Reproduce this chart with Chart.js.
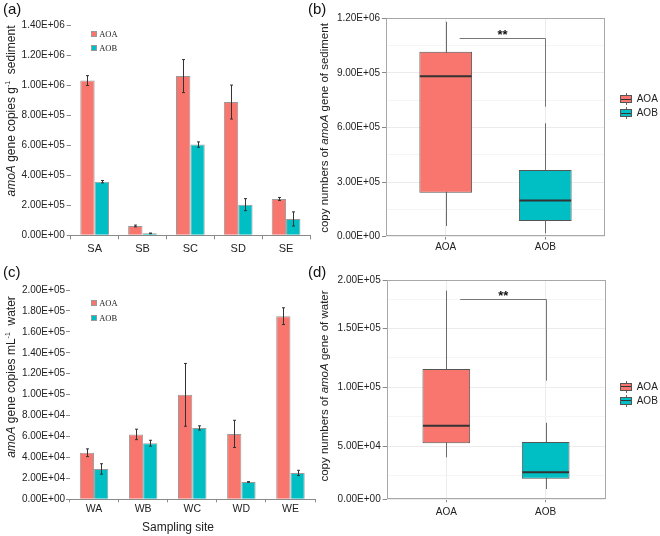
<!DOCTYPE html>
<html><head><meta charset="utf-8">
<script src="https://cdn.jsdelivr.net/npm/chart.js@4/dist/chart.umd.min.js"></script>
<style>
html,body{margin:0;padding:0;background:#fff;}
body{width:660px;height:536px;overflow:hidden;position:relative;font-family:"Liberation Sans",Arial,sans-serif;color:#222;}
canvas{position:absolute;}
.t{position:absolute;white-space:nowrap;line-height:1;}
.rot{transform:translate(-50%,-50%) rotate(-90deg);}
.pl{position:absolute;font-size:15px;line-height:1;color:#111;}
.sw{position:absolute;width:6px;height:6px;box-sizing:border-box;border:1px solid #999;}
.lt{position:absolute;font-family:"Liberation Serif","Times New Roman",serif;font-size:8.5px;line-height:1;transform:translateY(-50%);}
.bt{position:absolute;font-size:10px;line-height:1;transform:translateY(-50%);}
sup{font-size:7px;vertical-align:5px;line-height:0;}
</style></head><body>
<canvas id="ca" width="330" height="260" style="left:0;top:0"></canvas>
<canvas id="cb" width="330" height="260" style="left:330px;top:0"></canvas>
<canvas id="cc" width="330" height="276" style="left:0;top:260px"></canvas>
<canvas id="cd" width="330" height="276" style="left:330px;top:260px"></canvas>

<div class="pl" style="left:3px;top:1px">(a)</div>
<div class="pl" style="left:308px;top:1px">(b)</div>
<div class="pl" style="left:3px;top:264px">(c)</div>
<div class="pl" style="left:308px;top:264px">(d)</div>

<div class="t rot" style="left:11px;top:111px;font-size:12px"><i>amoA</i> gene copies g<sup>-1</sup>&nbsp;&nbsp;sediment</div>
<div class="t rot" style="left:11px;top:377px;font-size:12px"><i>amoA</i> gene copies mL<sup>-1</sup>&nbsp;&nbsp;water</div>
<div class="t rot" style="left:325px;top:128px;font-size:11.5px">copy numbers of <i>amoA</i> gene of sediment</div>
<div class="t rot" style="left:325px;top:386px;font-size:11.5px">copy numbers of <i>amoA</i> gene of water</div>
<div class="t" style="left:178px;top:527px;font-size:12px;transform:translate(-50%,-50%)">Sampling site</div>
<div id="legends"></div>

<script>
// ---------------- data ----------------
const seriesNames = ['AOA', 'AOB'];

const sedSites = ['SA', 'SB', 'SC', 'SD', 'SE'];
const sedAOA = [1.03e6, 6.2e4, 1.06e6, 8.87e5, 2.42e5];
const sedAOAErr = [3.3e4, 6e3, 1.1e5, 1.13e5, 1.0e4];
const sedAOB = [3.57e5, 1.3e4, 6.04e5, 2.04e5, 1.09e5];
const sedAOBErr = [8e3, 2e3, 1.8e4, 4e4, 4.7e4];
const sedTickValues = [0, 2e5, 4e5, 6e5, 8e5, 1e6, 1.2e6, 1.4e6];
const sedTickLabels = ['0.00E+00', '2.00E+05', '4.00E+05', '6.00E+05', '8.00E+05', '1.00E+06', '1.20E+06', '1.40E+06'];

const waterSites = ['WA', 'WB', 'WC', 'WD', 'WE'];
const waterAOA = [4.45e4, 6.2e4, 9.98e4, 6.25e4, 1.75e5];
const waterAOAErr = [3.7e3, 5e3, 3e4, 1.3e4, 8e3];
const waterAOB = [2.9e4, 5.36e4, 6.82e4, 1.66e4, 2.52e4];
const waterAOBErr = [5e3, 2.8e3, 2e3, 3e2, 2.5e3];
const waterTickValues = [0, 2e4, 4e4, 6e4, 8e4, 1e5, 1.2e5, 1.4e5, 1.6e5, 1.8e5, 2e5];
const waterTickLabels = ['0.00E+00', '2.00E+04', '4.00E+04', '6.00E+04', '8.00E+04', '1.00E+05', '1.20E+05', '1.40E+05', '1.60E+05', '1.80E+05', '2.00E+05'];

const boxGroups = ['AOA', 'AOB'];
const sedBoxMin = [5.8e4, 1.8e4];
const sedBoxQ1 = [2.41e5, 8.6e4];
const sedBoxMed = [8.82e5, 1.99e5];
const sedBoxQ3 = [1.016e6, 3.66e5];
const sedBoxMax = [1.181e6, 6.23e5];
const sedBoxRange = [0, 1.2e6];
const sedBoxTickValues = [0, 1.5e5, 3e5, 4.5e5, 6e5, 7.5e5, 9e5, 1.05e6, 1.2e6];
const sedBoxTickLabels = ['0.00E+00', '', '3.00E+05', '', '6.00E+05', '', '9.00E+05', '', '1.20E+06'];
const sedSig = [1.14, 2, 1.09e6, 7.14e5];   // bracket: x from, x to, level, lower end
const sigText = '**';

const waterBoxMin = [4.05e4, 1.35e4];
const waterBoxQ1 = [5.24e4, 2.23e4];
const waterBoxMed = [6.73e4, 2.77e4];
const waterBoxQ3 = [1.156e5, 5.35e4];
const waterBoxMax = [1.821e5, 6.99e4];
const waterBoxRange = [4.8e3, 1.912e5];
const waterBoxTickValues = [4.8e3, 2.5e4, 5e4, 7.5e4, 1e5, 1.25e5, 1.5e5, 1.75e5, 1.912e5];
const waterBoxTickLabels = ['0.00E+00', '', '5.00E+04', '', '1.00E+05', '', '1.50E+05', '', '2.00E+05'];
const waterSig = [1.14, 2, 1.75e5, 1.056e5];

// ---------------- styling ----------------
const FONT = "'Liberation Sans', Arial, sans-serif";
const COLORS = ['#F8766D', '#00BFC4'];

const errorBars = {
  id: 'errorBars',
  afterDatasetsDraw(chart) {
    const ctx = chart.ctx, y = chart.scales.y;
    chart.data.datasets.forEach((ds, i) => {
      const meta = chart.getDatasetMeta(i);
      meta.data.forEach((bar, j) => {
        const v = ds.data[j], e = ds.errors[j];
        const px = Math.round(bar.x) + 0.5;
        const t = y.getPixelForValue(v + e), b = y.getPixelForValue(v - e);
        ctx.save();
        ctx.strokeStyle = '#333'; ctx.lineWidth = 1;
        ctx.beginPath();
        ctx.moveTo(px, t); ctx.lineTo(px, b);
        ctx.moveTo(px - 1.5, t); ctx.lineTo(px + 1.5, t);
        ctx.moveTo(px - 1.5, b); ctx.lineTo(px + 1.5, b);
        ctx.stroke();
        ctx.restore();
      });
    });
  }
};

function makeBar(id, cats, aoa, aoaErr, aob, aobErr, tickVals, tickLabels, g) {
  return new Chart(document.getElementById(id), {
    type: 'bar',
    data: {
      labels: cats,
      datasets: [
        { label: seriesNames[0], data: aoa, errors: aoaErr, backgroundColor: COLORS[0], borderColor: '#9a9a9a', borderWidth: 1 },
        { label: seriesNames[1], data: aob, errors: aobErr, backgroundColor: COLORS[1], borderColor: '#9a9a9a', borderWidth: 1 }
      ]
    },
    options: {
      responsive: false, animation: false, devicePixelRatio: 1,
      datasets: { bar: { categoryPercentage: g.catPct, barPercentage: 1 } },
      layout: { padding: { top: g.top, right: g.right, left: 0, bottom: 0 } },
      plugins: { legend: { display: false }, tooltip: { enabled: false } },
      scales: {
        x: {
          grid: { offset: true, drawOnChartArea: false, tickLength: g.xTick, color: '#8a8a8a' },
          border: { display: true, color: '#8a8a8a' },
          ticks: { font: { family: FONT, size: g.xFont }, color: '#222', padding: g.xPad, maxRotation: 0 },
          afterFit(s) { s.height = g.xH; }
        },
        y: {
          min: tickVals[0], max: tickVals[tickVals.length - 1],
          afterBuildTicks(s) { s.ticks = tickVals.map(v => ({ value: v })); },
          ticks: { callback: (v, i) => tickLabels[i], font: { family: FONT, size: 10 }, color: '#222', padding: g.yPad, autoSkip: false },
          grid: { drawOnChartArea: false, tickLength: g.yTick, color: '#8a8a8a' },
          border: { display: false },
          afterFit(s) { s.width = g.yW; }
        }
      }
    },
    plugins: [errorBars]
  });
}

const boxExtras = {
  id: 'boxExtras',
  beforeDatasetsDraw(chart) {
    const { ctx, scales: { x, y } } = chart;
    const st = chart.data.datasets[0].stats;
    ctx.save();
    ctx.strokeStyle = '#6a6a6a'; ctx.lineWidth = 1;
    st.mins.forEach((mn, i) => {
      const px = Math.round(x.getPixelForValue(i + 1)) + 0.5;
      ctx.beginPath();
      ctx.moveTo(px, y.getPixelForValue(mn));
      ctx.lineTo(px, y.getPixelForValue(st.maxs[i]));
      ctx.stroke();
    });
    ctx.restore();
  },
  afterDatasetsDraw(chart) {
    const { ctx, scales: { x, y } } = chart;
    const ds = chart.data.datasets[0], st = ds.stats;
    const meta = chart.getDatasetMeta(0);
    ctx.save();
    ctx.strokeStyle = '#333'; ctx.lineWidth = 2;
    meta.data.forEach((bar, i) => {
      const py = y.getPixelForValue(st.med[i]);
      ctx.beginPath();
      ctx.moveTo(bar.x - bar.width / 2 + 0.5, py);
      ctx.lineTo(bar.x + bar.width / 2 - 0.5, py);
      ctx.stroke();
    });
    // significance bracket
    const s = st.sig;
    const x1 = x.getPixelForValue(s[0]), x2 = Math.round(x.getPixelForValue(s[1])) + 0.5;
    const yl = Math.round(y.getPixelForValue(s[2])) + 0.5, yb = y.getPixelForValue(s[3]);
    ctx.strokeStyle = '#777'; ctx.lineWidth = 1;
    ctx.beginPath();
    ctx.moveTo(x1, yl); ctx.lineTo(x2, yl); ctx.lineTo(x2, yb);
    ctx.stroke();
    ctx.fillStyle = '#111';
    ctx.font = 'bold 13px ' + FONT;
    ctx.textAlign = 'center'; ctx.textBaseline = 'alphabetic';
    ctx.fillText(sigText, (x1 + x2) / 2, yl);
    ctx.restore();
  },
  afterDraw(chart) {
    const { ctx, chartArea: a } = chart;
    ctx.save();
    ctx.strokeStyle = '#a8a8a8'; ctx.lineWidth = 1;
    ctx.strokeRect(Math.round(a.left) + 0.5, Math.round(a.top) + 0.5, Math.round(a.right - a.left) - 1, Math.round(a.bottom - a.top) - 1);
    ctx.restore();
  }
};

function makeBox(id, mins, q1, med, q3, maxs, range, tickVals, tickLabels, sig, g) {
  return new Chart(document.getElementById(id), {
    type: 'bar',
    data: {
      datasets: [{
        data: boxGroups.map((c, i) => ({ x: i + 1, y: [q1[i], q3[i]] })),
        backgroundColor: COLORS, borderColor: '#555', borderWidth: 1, borderSkipped: false,
        categoryPercentage: g.boxPct, barPercentage: 1,
        stats: { mins, med, maxs, sig }
      }]
    },
    options: {
      responsive: false, animation: false, devicePixelRatio: 1,
      layout: { padding: { top: g.top, right: g.right, left: 0, bottom: 0 } },
      plugins: { legend: { display: false }, tooltip: { enabled: false } },
      scales: {
        x: {
          type: 'linear', min: 0.4, max: 2.6, offset: false,
          afterBuildTicks(s) { s.ticks = boxGroups.map((c, i) => ({ value: i + 1 })); },
          ticks: { callback: (v, i) => boxGroups[i], font: { family: FONT, size: 10 }, color: '#222', padding: g.xPad, autoSkip: false, maxRotation: 0 },
          grid: { offset: false, color: '#ececec', tickColor: '#888', tickLength: 3 },
          border: { display: false },
          afterFit(s) { s.height = g.xH; }
        },
        y: {
          min: range[0], max: range[1],
          afterBuildTicks(s) { s.ticks = tickVals.map(v => ({ value: v })); },
          ticks: { callback: (v, i) => tickLabels[i], font: { family: FONT, size: 10 }, color: '#222', padding: 2, autoSkip: false },
          grid: {
            color: c => tickLabels[c.index] === '' ? '#f5f5f5' : '#ececec',
            tickColor: c => tickLabels[c.index] === '' ? 'rgba(0,0,0,0)' : '#888',
            tickLength: 4
          },
          border: { display: false },
          afterFit(s) { s.width = g.yW; }
        }
      }
    },
    plugins: [boxExtras]
  });
}

makeBar('ca', sedSites, sedAOA, sedAOAErr, sedAOB, sedAOBErr, sedTickValues, sedTickLabels,
  { catPct: 0.6, top: 25, right: 20, xH: 24.7, xTick: 4, xPad: 3, xFont: 11, yW: 70.7, yTick: 4, yPad: 2 });
makeBar('cc', waterSites, waterAOA, waterAOAErr, waterAOB, waterAOBErr, waterTickValues, waterTickLabels,
  { catPct: 0.58, top: 30, right: 15, xH: 36.7, xTick: 3, xPad: 1, xFont: 10.5, yW: 69.5, yTick: 3.5, yPad: 1 });
makeBox('cb', sedBoxMin, sedBoxQ1, sedBoxMed, sedBoxQ3, sedBoxMax, sedBoxRange, sedBoxTickValues, sedBoxTickLabels, sedSig,
  { boxPct: 0.53, top: 18.3, right: 55, xH: 23.4, xPad: 2, yW: 56 });
makeBox('cd', waterBoxMin, waterBoxQ1, waterBoxMed, waterBoxQ3, waterBoxMax, waterBoxRange, waterBoxTickValues, waterBoxTickLabels, waterSig,
  { boxPct: 0.48, top: 20, right: 54.7, xH: 36.7, xPad: 3.5, yW: 56.7 });

// ---------------- legends ----------------
const lg = document.getElementById('legends');
function barLegend(x, cy0, dy) {
  seriesNames.forEach((n, i) => {
    const cy = cy0 + i * dy;
    const sw = document.createElement('div');
    sw.className = 'sw'; sw.style.left = x + 'px'; sw.style.top = (cy - 3) + 'px'; sw.style.background = COLORS[i];
    lg.appendChild(sw);
    const t = document.createElement('div');
    t.className = 'lt'; t.style.left = (x + 8.5) + 'px'; t.style.top = cy + 'px'; t.textContent = n;
    lg.appendChild(t);
  });
}
function boxLegend(x, cy0, dy) {
  seriesNames.forEach((n, i) => {
    const cy = cy0 + i * dy;
    const k = document.createElement('div');
    k.style.cssText = `position:absolute;left:${x}px;top:${cy - 6}px;width:12px;height:12px;`;
    k.innerHTML = `<div style="position:absolute;left:5.5px;top:0;width:1px;height:12px;background:#666"></div>
      <div style="position:absolute;left:0;top:2px;width:12px;height:8px;box-sizing:border-box;border:1px solid #555;background:${COLORS[i]}"></div>
      <div style="position:absolute;left:1px;top:5.5px;width:10px;height:1px;background:#333"></div>`;
    lg.appendChild(k);
    const t = document.createElement('div');
    t.className = 'bt'; t.style.left = (x + 16.7) + 'px'; t.style.top = cy + 'px'; t.textContent = n;
    lg.appendChild(t);
  });
}
barLegend(90.7, 33.5, 14.2);
barLegend(90.7, 302.7, 15);
boxLegend(620, 99.2, 14);
boxLegend(620, 386.7, 14);
</script>
</body></html>
